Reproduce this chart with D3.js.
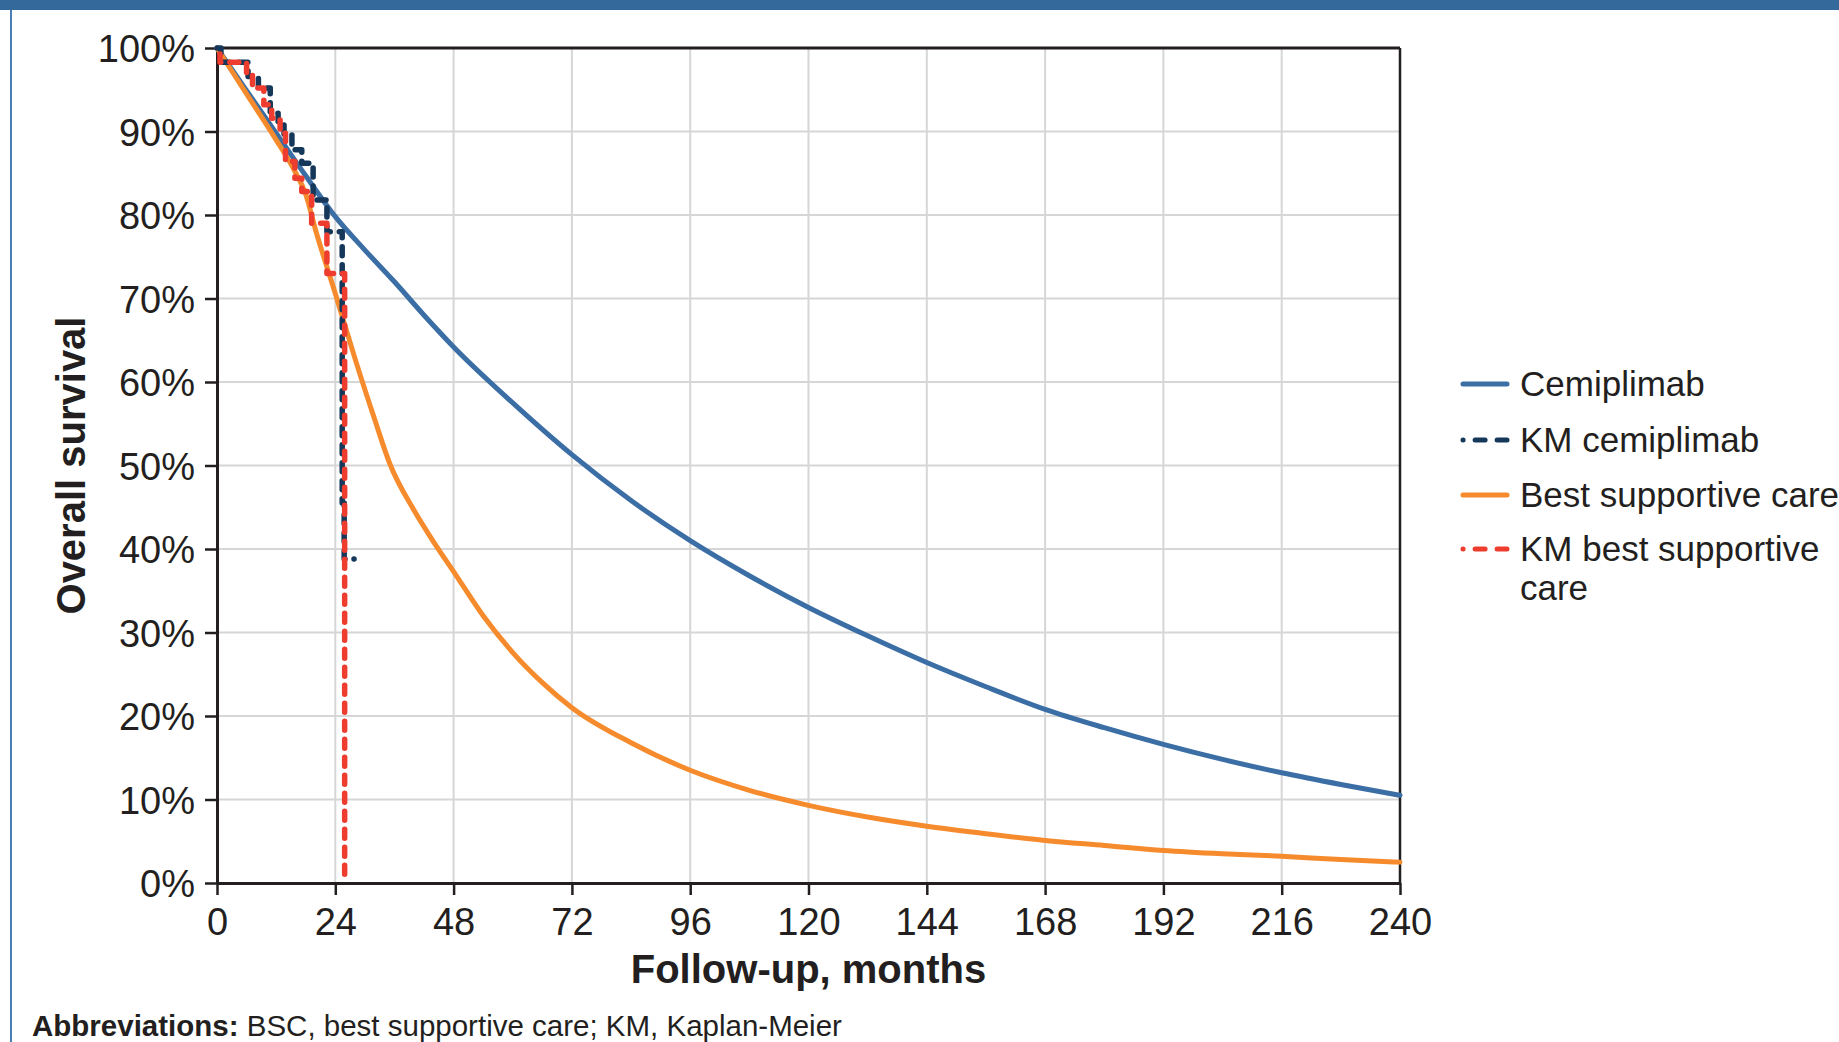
<!DOCTYPE html>
<html>
<head>
<meta charset="utf-8">
<script src="https://cdn.jsdelivr.net/npm/d3@7"></script>
<style>
  body { margin: 0; background: #ffffff; }
  svg text { font-family: "Liberation Sans", Arial, sans-serif; fill: #231f20; }
</style>
</head>
<body>
<div id="chart"></div>
<script>
// tick values
var monthTicks = [0, 24, 48, 72, 96, 120, 144, 168, 192, 216, 240];
var pctTicks = [0, 10, 20, 30, 40, 50, 60, 70, 80, 90, 100];

// modelled curves (months, % alive)
var cemiMonths = [0, 6, 12, 18, 24, 30, 36, 42, 48, 60, 72, 84, 96, 108, 120, 132, 144, 156, 168, 180, 192, 204, 216, 228, 240];
var cemiOS = [100, 94.9, 89.8, 84.7, 79.8, 75.8, 72.0, 68.0, 64.2, 57.5, 51.3, 45.8, 41.0, 36.8, 33.0, 29.6, 26.4, 23.5, 20.8, 18.6, 16.6, 14.8, 13.2, 11.8, 10.5];

var bscMonths = [0, 6, 12, 16, 18, 20, 24, 28, 32, 35, 40, 44, 48, 54, 60, 66, 72, 84, 96, 108, 120, 132, 144, 156, 168, 180, 192, 204, 216, 228, 240];
var bscOS = [100, 94.5, 89.0, 85.0, 82.5, 78.2, 70.6, 62.8, 55.5, 50.3, 44.6, 40.8, 37.3, 32.0, 27.6, 24.0, 21.0, 16.8, 13.5, 11.1, 9.3, 7.9, 6.8, 5.9, 5.1, 4.5, 3.9, 3.5, 3.2, 2.8, 2.5];

// Kaplan-Meier steps (last point = end of follow-up)
var kmCemiMonths = [0, 0.8, 6.3, 8.4, 10.8, 12.4, 13.6, 15.2, 17.2, 19.5, 22.3, 25.4, 25.8, 27.8];
var kmCemiOS = [100, 98.3, 96.6, 95.2, 92.2, 91.2, 89.6, 87.8, 86.2, 81.8, 78.0, 45.5, 38.8, 38.8];

var kmBscMonths = [0, 0.6, 6.0, 7.2, 9.5, 11.1, 12.8, 13.9, 15.8, 17.2, 19.2, 22.3, 25.9, 25.9];
var kmBscOS = [100, 98.3, 96.8, 95.2, 93.2, 91.6, 89.8, 86.4, 84.4, 82.8, 79.0, 73.0, 73.0, 0];

var legendLabels = [["Cemiplimab"], ["KM cemiplimab"], ["Best supportive care"], ["KM best supportive", "care"]];

var W = 1839, H = 1042;

var svg = d3.select("#chart").append("svg")
            .attr("width", W)
            .attr("height", H);

// page frame
svg.append("rect")
    .attr("x", 0).attr("y", 0)
    .attr("width", W).attr("height", 10)
    .attr("fill", "#346a9b");
svg.append("line")
    .attr("x1", 11).attr("y1", 10)
    .attr("x2", 11).attr("y2", H)
    .attr("stroke", "#4a7db3")
    .attr("stroke-width", 2);

var x = d3.scaleLinear().domain([0, 240]).range([217, 1400]);
var y = d3.scaleLinear().domain([0, 100]).range([883, 48]);

// gridlines
svg.append("g").selectAll("line")
    .data(monthTicks.slice(1, -1))
    .join("line")
    .attr("x1", d => x(d)).attr("x2", d => x(d))
    .attr("y1", y(0)).attr("y2", y(100))
    .attr("stroke", "#d6d6d6")
    .attr("stroke-width", 2);

svg.append("g").selectAll("line")
    .data(pctTicks.slice(1, -1))
    .join("line")
    .attr("x1", x(0)).attr("x2", x(240))
    .attr("y1", d => y(d)).attr("y2", d => y(d))
    .attr("stroke", "#d6d6d6")
    .attr("stroke-width", 2);

// axes
var yAxis = svg.append("g")
    .attr("transform", "translate(" + x(0) + ",0)")
    .call(d3.axisLeft(y).tickValues(pctTicks).tickFormat(d => d + "%")
          .tickSize(12).tickSizeOuter(0).tickPadding(10));

var xAxis = svg.append("g")
    .attr("transform", "translate(0," + y(0) + ")")
    .call(d3.axisBottom(x).tickValues(monthTicks)
          .tickSize(12).tickSizeOuter(0).tickPadding(13));

[yAxis, xAxis].forEach(function(ax){
    ax.select(".domain").attr("stroke", "#231f20").attr("stroke-width", 3);
    ax.selectAll(".tick line").attr("stroke", "#231f20").attr("stroke-width", 2.5);
    ax.selectAll(".tick text").attr("font-size", 38).attr("fill", "#231f20");
});
yAxis.selectAll(".tick text").attr("dy", "0.36em");

// top and right edges of plot frame
svg.append("line")
    .attr("x1", x(0) - 1.5).attr("x2", x(240))
    .attr("y1", y(100)).attr("y2", y(100))
    .attr("stroke", "#231f20").attr("stroke-width", 3);
svg.append("line")
    .attr("x1", x(240)).attr("x2", x(240))
    .attr("y1", y(100)).attr("y2", y(0))
    .attr("stroke", "#231f20").attr("stroke-width", 2.5);

// axis titles
svg.append("text")
    .attr("x", (x(0) + x(240)) / 2)
    .attr("y", 983)
    .attr("text-anchor", "middle")
    .attr("font-size", 40)
    .attr("font-weight", "bold")
    .text("Follow-up, months");

svg.append("text")
    .attr("transform", "translate(85," + ((y(0) + y(100)) / 2) + ") rotate(-90)")
    .attr("text-anchor", "middle")
    .attr("font-size", 40)
    .attr("font-weight", "bold")
    .text("Overall survival");

// curves
function drawCurve(months, values, color, curve, dash, offset){
    var pts = months.map((m, i) => [m, values[i]]);
    var line = d3.line()
        .x(d => x(d[0]))
        .y(d => y(d[1]))
        .curve(curve);
    svg.append("path")
        .attr("d", line(pts))
        .attr("fill", "none")
        .attr("stroke", color)
        .attr("stroke-width", dash ? 5.5 : 5)
        .attr("stroke-linecap", "round")
        .attr("stroke-linejoin", "round")
        .attr("stroke-dasharray", dash || null)
        .attr("stroke-dashoffset", offset || 0);
}

drawCurve(cemiMonths, cemiOS, "#3b6ea5", d3.curveMonotoneX);
drawCurve(bscMonths, bscOS, "#f68b2d", d3.curveMonotoneX);
drawCurve(kmCemiMonths, kmCemiOS, "#14375a", d3.curveStepAfter, "9,9");
drawCurve(kmBscMonths, kmBscOS, "#ee3d2f", d3.curveStepAfter, "9,9", 9);

// legend
var legendColors = ["#3b6ea5", "#14375a", "#f68b2d", "#ee3d2f"];
var legendDash = [null, "0.1,12,10,12,10", null, "0.1,12,10,12,10"];
var legendY = [384, 440, 495, 549];

var legend = svg.append("g");
legendLabels.forEach(function(lab, i){
    legend.append("line")
        .attr("x1", 1463).attr("x2", 1507)
        .attr("y1", legendY[i]).attr("y2", legendY[i])
        .attr("stroke", legendColors[i])
        .attr("stroke-width", 5)
        .attr("stroke-linecap", "round")
        .attr("stroke-dasharray", legendDash[i]);
    var t = legend.append("text")
        .attr("x", 1520)
        .attr("y", legendY[i] + 12)
        .attr("font-size", 35);
    lab.forEach(function(s, j){
        t.append("tspan")
            .attr("x", 1520)
            .attr("dy", j === 0 ? 0 : 39)
            .text(s);
    });
});

// footnote
var foot = svg.append("text")
    .attr("x", 32)
    .attr("y", 1036)
    .attr("font-size", 29.5);
foot.append("tspan").attr("font-weight", "bold").text("Abbreviations:");
foot.append("tspan").text(" BSC, best supportive care; KM, Kaplan-Meier");
</script>
</body>
</html>
